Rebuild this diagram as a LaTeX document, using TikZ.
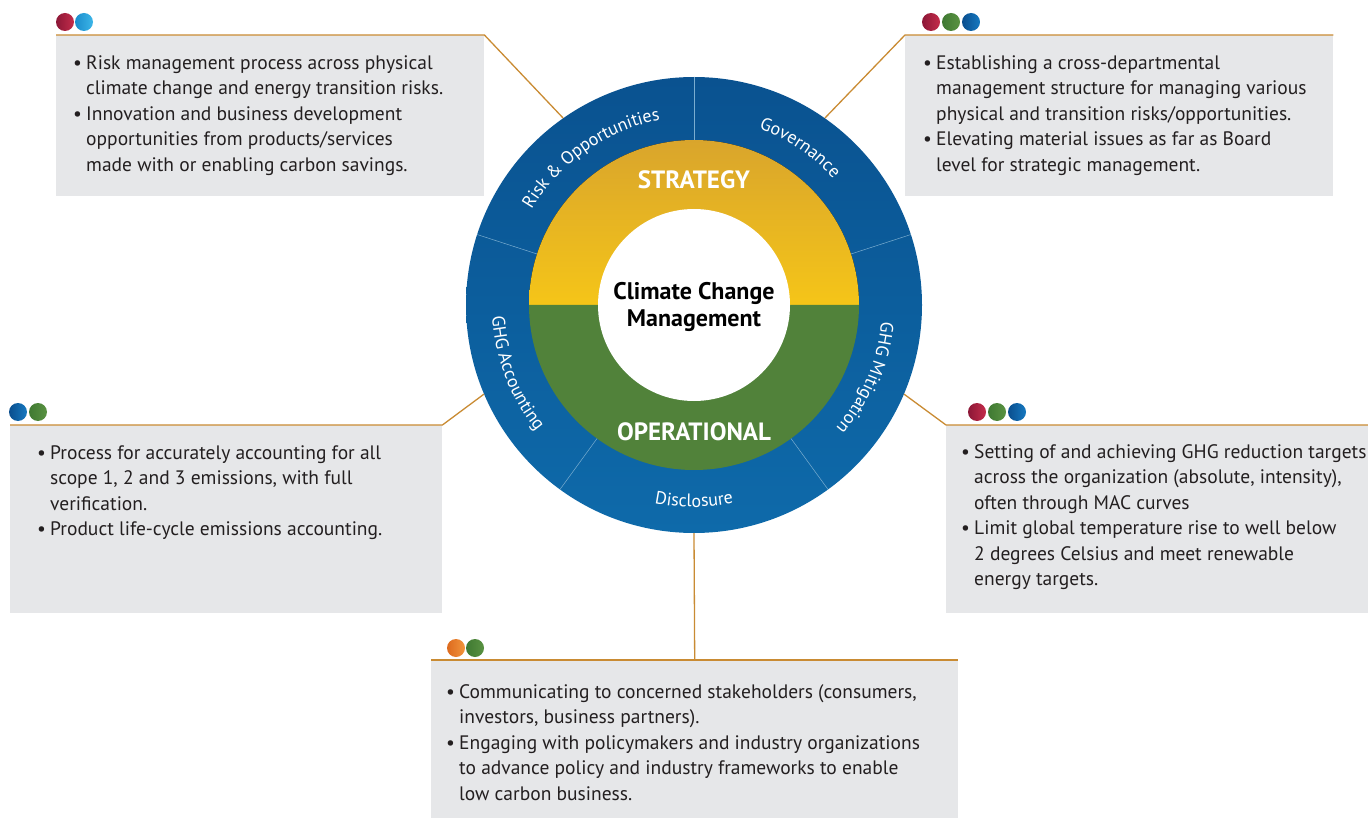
\documentclass[tikz,border=0pt]{standalone}
\usepackage{fontspec}
\setmainfont{PT Sans}
\usetikzlibrary{decorations.text}
\definecolor{boxgray}{HTML}{E6E7E9}
\definecolor{lineor}{HTML}{C98B33}
\definecolor{ringtop}{HTML}{0A5290}
\definecolor{ringbot}{HTML}{0E6AAA}
\definecolor{yeltop}{HTML}{D9A52C}
\definecolor{yelbot}{HTML}{F5C518}
\definecolor{opgreen}{HTML}{51823A}
\definecolor{textdark}{HTML}{231F20}
\definecolor{crimL}{HTML}{8C1737}
\definecolor{crimR}{HTML}{C42C4A}
\definecolor{cyanL}{HTML}{1A8CCC}
\definecolor{cyanR}{HTML}{3DB6E8}
\definecolor{blueL}{HTML}{0A4E8E}
\definecolor{blueR}{HTML}{1679C0}
\definecolor{grnL}{HTML}{3F7932}
\definecolor{grnR}{HTML}{5A9242}
\definecolor{orL}{HTML}{DD6A1E}
\definecolor{orR}{HTML}{F2953C}
\newcommand{\bitem}{\makebox[13pt][l]{•}}
\newcommand{\bcont}{\hspace*{13pt}}
\newcommand{\ringfont}{\fontsize{18}{18}\selectfont}
\begin{document}
\begin{tikzpicture}[x=1pt,y=1pt,
  panel/.style={fill=boxgray, draw=none, inner sep=0pt, anchor=north west},
  bodytext/.style={anchor=north west, inner sep=0pt, align=left, text=textdark,
    font=\fontsize{19.5}{25.5}\selectfont},
  leader/.style={draw=lineor, line width=1.3pt},
  dot/.style={circle, inner sep=0pt, minimum size=18pt},
  crimdot/.style={dot, left color=crimL, right color=crimR},
  cyandot/.style={dot, left color=cyanL, right color=cyanR},
  bluedot/.style={dot, left color=blueL, right color=blueR},
  grndot/.style={dot, left color=grnL, right color=grnR},
  ordot/.style={dot, left color=orL, right color=orR},
  divider/.style={draw=white!45!ringbot, line width=0.5pt},
  ringlabel/.style={decorate, decoration={text along path, text align=center, text color=white}},
  headword/.style={text=white, font=\fontsize{25}{25}\selectfont\bfseries, inner sep=0pt},
]
\useasboundingbox (0,0) rectangle (1368,-818);

% panels
\node[panel, minimum width=428pt, minimum height=161pt] (pTL) at (56,-35) {};
\node[panel, minimum width=428pt, minimum height=161pt] (pTR) at (905,-35) {};
\node[panel, minimum width=432pt, minimum height=188pt] (pL) at (10,-425) {};
\node[panel, minimum width=422pt, minimum height=188pt] (pR) at (946,-425) {};
\node[panel, minimum width=527pt, minimum height=158pt] (pB) at (431,-660) {};

% ring
\coordinate (C) at (694,-305);
\node[circle, inner sep=0pt, minimum size=456pt, top color=ringtop, bottom color=ringbot] (ring) at (C) {};
\fill[top color=yeltop, bottom color=yelbot] ([shift={(0:165)}]C) arc[start angle=0, end angle=180, radius=165] -- cycle;
\fill[opgreen] ([shift={(180:165)}]C) arc[start angle=180, end angle=360, radius=165] -- cycle;
\foreach \a in {18,90,162,234,306}
  \draw[divider] ([shift={(\a:165)}]C) -- ([shift={(\a:228)}]C);
\node[circle, fill=white, inner sep=0pt, minimum size=192pt] (core) at (C) {};
\node[align=center, text=black, inner sep=0pt, font=\fontsize{24}{27}\selectfont\bfseries] (title) at (694,-306.5) {Climate Change\\Management};
\node[headword] (strat) at (694,-180) {STRATEGY};
\node[headword] (oper) at (694,-432) {OPERATIONAL};

% ring labels
\path[ringlabel, decoration={text={|\ringfont|Risk {\&} Opportunities}}]
  ([shift={(165:188)}]C) arc[start angle=165, end angle=85, radius=188];
\path[ringlabel, decoration={text={|\ringfont|Governance}}]
  ([shift={(90:188)}]C) arc[start angle=90, end angle=22, radius=188];
\path[ringlabel, decoration={text={|\ringfont|GHG Mitigation}}]
  ([shift={(12:188)}]C) arc[start angle=12, end angle=-58, radius=188];
\path[ringlabel, decoration={text={|\ringfont|GHG Accounting}}]
  ([shift={(166:202)}]C) arc[start angle=166, end angle=236, radius=202];
\path[ringlabel, decoration={text={|\ringfont|Disclosure}}]
  ([shift={(240:202)}]C) arc[start angle=240, end angle=300, radius=202];

% leaders
\draw[leader] (pTL.north west) -- (pTL.north east) -- (ring.125);
\draw[leader] (pTR.north east) -- (pTR.north west) -- (ring.55);
\draw[leader] (pL.north west) -- (pL.north east) -- (ring.203);
\draw[leader] (pR.north east) -- (pR.north west) -- (ring.337);
\draw[leader] (pB.north west) -- (pB.north east);
\draw[leader] (ring.south) -- (pB.north);

% dots
\node[crimdot] (d1a) at (65,-22) {};
\node[cyandot] (d1b) at (84,-22) {};
\node[crimdot] (d2a) at (931,-22) {};
\node[grndot] (d2b) at (951,-22) {};
\node[bluedot] (d2c) at (971,-22) {};
\node[bluedot] (d3a) at (18,-412) {};
\node[grndot] (d3b) at (38,-412) {};
\node[crimdot] (d4a) at (977,-412) {};
\node[grndot] (d4b) at (997,-412) {};
\node[bluedot] (d4c) at (1017,-412) {};
\node[ordot] (d5a) at (456,-648) {};
\node[grndot] (d5b) at (475,-648) {};

% texts
\node[bodytext] (tTL) at (73,-55) {\bitem Risk management process across physical\\
\bcont climate change and energy transition risks.\\
\bitem Innovation and business development\\
\bcont opportunities from products/services\\
\bcont made with or enabling carbon savings.};
\node[bodytext] (tTR) at (923,-55) {\bitem Establishing a cross-departmental\\
\bcont management structure for managing various\\
\bcont physical and transition risks/opportunities.\\
\bitem Elevating material issues as far as Board\\
\bcont level for strategic management.};
\node[bodytext] (tL) at (37,-445) {\bitem Process for accurately accounting for all\\
\bcont scope 1, 2 and 3 emissions, with full\\
\bcont verification.\\
\bitem Product life-cycle emissions accounting.};
\node[bodytext] (tR) at (961,-444) {\bitem Setting of and achieving GHG reduction targets\\
\bcont across the organization (absolute, intensity),\\
\bcont often through MAC curves\\
\bitem Limit global temperature rise to well below\\
\bcont 2 degrees Celsius and meet renewable\\
\bcont energy targets.};
\node[bodytext] (tB) at (446,-684) {\bitem Communicating to concerned stakeholders (consumers,\\
\bcont investors, business partners).\\
\bitem Engaging with policymakers and industry organizations\\
\bcont to advance policy and industry frameworks to enable\\
\bcont low carbon business.};
\end{tikzpicture}
\end{document}
